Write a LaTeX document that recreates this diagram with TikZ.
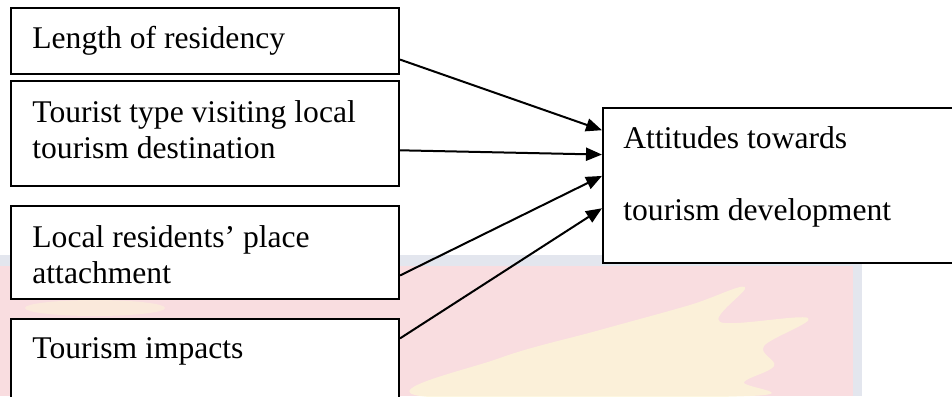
\documentclass[tikz,border=0pt]{standalone}
\usepackage{fontspec}
\setmainfont{Liberation Serif}
\usetikzlibrary{arrows.meta,calc}

\definecolor{wmpink}{HTML}{F9DDE0}
\definecolor{wmband}{HTML}{E3E6EE}
\definecolor{wmyellow}{HTML}{FCF5D8}

\tikzstyle{edge}=[draw, line width=1pt, -{Triangle[length=8pt,width=6.5pt]}]
\tikzstyle{factor}=[draw, line width=1pt, fill=white, anchor=north west, inner sep=0pt, minimum width=194pt]
\tikzstyle{factor-text}=[anchor=base west, inner sep=0pt, font=\fontsize{15.8}{18}\selectfont]

\begin{document}
\begin{tikzpicture}[x=0.5pt, y=-0.5pt]
  \useasboundingbox (0,0) rectangle (952,396);
  \clip (0,0) rectangle (952,396);

  % faint watermark behind the boxes
  \fill[wmband] (0,255) rectangle (862,396);
  \fill[wmpink] (0,266) rectangle (853,396);
  \fill[wmyellow, opacity=0.8] plot[smooth cycle, tension=0.6] coordinates {(420,396) (500,358) (600,330) (690,305) (745,287) (720,322) (808,318) (764,346) (774,366) (744,382) (750,396)};
  \fill[wmyellow, opacity=0.5] (95,308) ellipse [x radius=70, y radius=8];

  % boxes
  \node[factor, minimum height=33pt] (len) at (10,7) {};
  \node[factor, minimum height=52.5pt] (typ) at (10,80) {};
  \node[factor, minimum height=46.5pt] (plc) at (10,205) {};
  \node[factor, minimum height=50pt] (imp) at (10,318) {};
  \node[factor, minimum width=199pt, minimum height=77.5pt] (att) at (602,107) {};

  % texts
  \node[factor-text] (len-t) at ($(len.north west)+(22,41)$) {Length of residency};
  \node[factor-text] (typ-t) at ($(typ.north west)+(22,42)$)
    {\begin{tabular}[t]{@{}l@{}}Tourist type visiting local\\ tourism destination\end{tabular}};
  \node[factor-text] (plc-t) at ($(plc.north west)+(22,42)$)
    {\begin{tabular}[t]{@{}l@{}}Local residents' place\\ attachment\end{tabular}};
  \node[factor-text] (imp-t) at ($(imp.north west)+(22,40)$) {Tourism impacts};
  \node[factor-text] (att-t) at ($(att.north west)+(21,41)$)
    {\begin{tabular}[t]{@{}l@{}}Attitudes towards\\[18pt] tourism development\end{tabular}};

  \foreach \source/\sf/\tf in {len/0.773/0.148, typ/0.657/0.303, plc/0.742/0.439, imp/0.2/0.645} {
    \path[edge] ($(\source.north east)!\sf!(\source.south east)$) -- ($(att.north west)!\tf!(att.south west)$);
  }
\end{tikzpicture}
\end{document}
